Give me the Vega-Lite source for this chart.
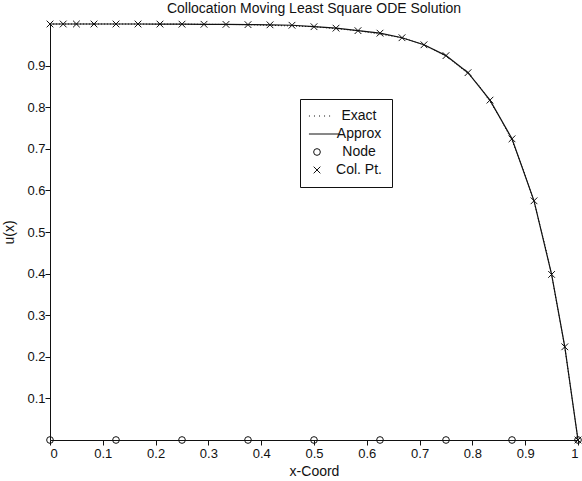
{
  "$schema": "https://vega.github.io/schema/vega-lite/v6.json",
  "autosize": "none",
  "width": 528,
  "height": 416,
  "padding": {"left": 50, "top": 24, "right": 4, "bottom": 41},
  "background": "white",
  "title": {
    "text": "Collocation Moving Least Square ODE Solution",
    "font": "Liberation Sans",
    "fontSize": 14,
    "fontWeight": "normal",
    "color": "#111",
    "anchor": "middle",
    "offset": 3
  },
  "config": {
    "view": {"stroke": null},
    "axis": {
      "grid": false,
      "domainColor": "#111",
      "domainWidth": 1,
      "tickColor": "#111",
      "tickSize": 5,
      "tickWidth": 1,
      "labelColor": "#111",
      "labelFont": "Liberation Sans",
      "labelFontSize": 13,
      "titleColor": "#111",
      "titleFont": "Liberation Sans",
      "titleFontSize": 14,
      "titleFontWeight": "normal"
    }
  },
  "datasets": {
    "sol": [
      {"series": "Approx", "x": 0, "u": 1},
      {"series": "Approx", "x": 0.025, "u": 1},
      {"series": "Approx", "x": 0.05, "u": 1},
      {"series": "Approx", "x": 0.0833, "u": 1},
      {"series": "Approx", "x": 0.125, "u": 1},
      {"series": "Approx", "x": 0.1667, "u": 1},
      {"series": "Approx", "x": 0.2083, "u": 0.9998},
      {"series": "Approx", "x": 0.25, "u": 0.9996},
      {"series": "Approx", "x": 0.2917, "u": 0.9993},
      {"series": "Approx", "x": 0.3333, "u": 0.999},
      {"series": "Approx", "x": 0.375, "u": 0.9985},
      {"series": "Approx", "x": 0.4167, "u": 0.998},
      {"series": "Approx", "x": 0.4583, "u": 0.997},
      {"series": "Approx", "x": 0.5, "u": 0.9935},
      {"series": "Approx", "x": 0.5417, "u": 0.99},
      {"series": "Approx", "x": 0.5833, "u": 0.984},
      {"series": "Approx", "x": 0.625, "u": 0.978},
      {"series": "Approx", "x": 0.6667, "u": 0.967},
      {"series": "Approx", "x": 0.7083, "u": 0.95},
      {"series": "Approx", "x": 0.75, "u": 0.924},
      {"series": "Approx", "x": 0.7917, "u": 0.883},
      {"series": "Approx", "x": 0.8333, "u": 0.817},
      {"series": "Approx", "x": 0.875, "u": 0.724},
      {"series": "Approx", "x": 0.9167, "u": 0.575},
      {"series": "Approx", "x": 0.95, "u": 0.398},
      {"series": "Approx", "x": 0.975, "u": 0.224},
      {"series": "Approx", "x": 1, "u": 0},

      {"series": "Exact", "x": 0, "u": 1},
      {"series": "Exact", "x": 0.125, "u": 1},
      {"series": "Exact", "x": 0.25, "u": 0.9996},
      {"series": "Exact", "x": 0.375, "u": 0.9985},
      {"series": "Exact", "x": 0.5, "u": 0.9935},
      {"series": "Exact", "x": 0.5833, "u": 0.984},
      {"series": "Exact", "x": 0.6667, "u": 0.967},
      {"series": "Exact", "x": 0.7083, "u": 0.95},
      {"series": "Exact", "x": 0.75, "u": 0.923},
      {"series": "Exact", "x": 0.7917, "u": 0.881},
      {"series": "Exact", "x": 0.8125, "u": 0.852},
      {"series": "Exact", "x": 0.8333, "u": 0.814},
      {"series": "Exact", "x": 0.8542, "u": 0.77},
      {"series": "Exact", "x": 0.875, "u": 0.72},
      {"series": "Exact", "x": 0.8958, "u": 0.652},
      {"series": "Exact", "x": 0.9167, "u": 0.573},
      {"series": "Exact", "x": 0.9375, "u": 0.468},
      {"series": "Exact", "x": 0.95, "u": 0.397},
      {"series": "Exact", "x": 0.975, "u": 0.223},
      {"series": "Exact", "x": 1, "u": 0},

      {"series": "Node", "x": 0, "u": 0},
      {"series": "Node", "x": 0.125, "u": 0},
      {"series": "Node", "x": 0.25, "u": 0},
      {"series": "Node", "x": 0.375, "u": 0},
      {"series": "Node", "x": 0.5, "u": 0},
      {"series": "Node", "x": 0.625, "u": 0},
      {"series": "Node", "x": 0.75, "u": 0},
      {"series": "Node", "x": 0.875, "u": 0},
      {"series": "Node", "x": 1, "u": 0},

      {"series": "Col. Pt.", "x": 0, "u": 1},
      {"series": "Col. Pt.", "x": 0.025, "u": 1},
      {"series": "Col. Pt.", "x": 0.05, "u": 1},
      {"series": "Col. Pt.", "x": 0.0833, "u": 1},
      {"series": "Col. Pt.", "x": 0.125, "u": 1},
      {"series": "Col. Pt.", "x": 0.1667, "u": 1},
      {"series": "Col. Pt.", "x": 0.2083, "u": 0.9998},
      {"series": "Col. Pt.", "x": 0.25, "u": 0.9996},
      {"series": "Col. Pt.", "x": 0.2917, "u": 0.9993},
      {"series": "Col. Pt.", "x": 0.3333, "u": 0.999},
      {"series": "Col. Pt.", "x": 0.375, "u": 0.9985},
      {"series": "Col. Pt.", "x": 0.4167, "u": 0.998},
      {"series": "Col. Pt.", "x": 0.4583, "u": 0.997},
      {"series": "Col. Pt.", "x": 0.5, "u": 0.9935},
      {"series": "Col. Pt.", "x": 0.5417, "u": 0.99},
      {"series": "Col. Pt.", "x": 0.5833, "u": 0.984},
      {"series": "Col. Pt.", "x": 0.625, "u": 0.978},
      {"series": "Col. Pt.", "x": 0.6667, "u": 0.967},
      {"series": "Col. Pt.", "x": 0.7083, "u": 0.95},
      {"series": "Col. Pt.", "x": 0.75, "u": 0.924},
      {"series": "Col. Pt.", "x": 0.7917, "u": 0.883},
      {"series": "Col. Pt.", "x": 0.8333, "u": 0.817},
      {"series": "Col. Pt.", "x": 0.875, "u": 0.724},
      {"series": "Col. Pt.", "x": 0.9167, "u": 0.575},
      {"series": "Col. Pt.", "x": 0.95, "u": 0.398},
      {"series": "Col. Pt.", "x": 0.975, "u": 0.224},
      {"series": "Col. Pt.", "x": 1, "u": 0}
    ]
  },
  "data": {"name": "sol"},
  "encoding": {
    "x": {
      "field": "x",
      "type": "quantitative",
      "scale": {"domain": [0, 1], "nice": false, "zero": false},
      "axis": {
        "title": "x-Coord",
        "values": [0, 0.1, 0.2, 0.3, 0.4, 0.5, 0.6, 0.7, 0.8, 0.9, 1],
        "format": "~g",
        "labelPadding": 2,
        "titlePadding": 4,
        "encode": {"ticks": {"update": {"y2": {"value": -5}}}}
      }
    },
    "y": {
      "field": "u",
      "type": "quantitative",
      "scale": {"domain": [0, 1], "nice": false, "zero": false},
      "axis": {
        "title": "u(x)",
        "values": [0.1, 0.2, 0.3, 0.4, 0.5, 0.6, 0.7, 0.8, 0.9],
        "format": "~g",
        "labelPadding": 0,
        "titlePadding": 10,
        "encode": {"ticks": {"update": {"x2": {"value": 5}}}}
      }
    }
  },
  "layer": [
    {
      "transform": [{"filter": "datum.series === 'Exact'"}],
      "mark": {"type": "line", "color": "#111", "strokeWidth": 1, "strokeDash": [1, 2]}
    },
    {
      "transform": [{"filter": "datum.series === 'Approx'"}],
      "mark": {"type": "line", "color": "#111", "strokeWidth": 1.2}
    },
    {
      "transform": [{"filter": "datum.series === 'Node' || datum.series === 'Col. Pt.'"}],
      "mark": {"type": "point", "filled": false, "size": 45, "strokeWidth": 1, "color": "#111", "opacity": 1},
      "encoding": {
        "shape": {
          "field": "series",
          "type": "nominal",
          "scale": {
            "domain": ["Exact", "Approx", "Node", "Col. Pt."],
            "range": [
              "M-2.4,0h0.3M-0.9,0h0.3M0.6,0h0.3M2.1,0h0.3M3.6,0h0.3",
              "M-2.4,0H6.6",
              "circle",
              "M-1,-1L1,1M-1,1L1,-1"
            ]
          },
          "legend": {
            "title": null,
            "orient": "none",
            "legendX": 250,
            "legendY": 75,
            "padding": 10,
            "strokeColor": "#111",
            "fillColor": "white",
            "labelFont": "Liberation Sans",
            "labelFontSize": 14,
            "labelColor": "#111",
            "labelAlign": "center",
            "labelOffset": 35,
            "labelExpr": "'\u00a0\u00a0\u00a0\u00a0' + datum.label + '\u00a0\u00a0\u00a0\u00a0\u00a0\u00a0\u00a0\u00a0'",
            "symbolSize": 45,
            "symbolStrokeColor": "#111",
            "symbolStrokeWidth": 1,
            "symbolFillColor": "transparent",
            "rowPadding": 4
          }
        }
      }
    }
  ]
}
